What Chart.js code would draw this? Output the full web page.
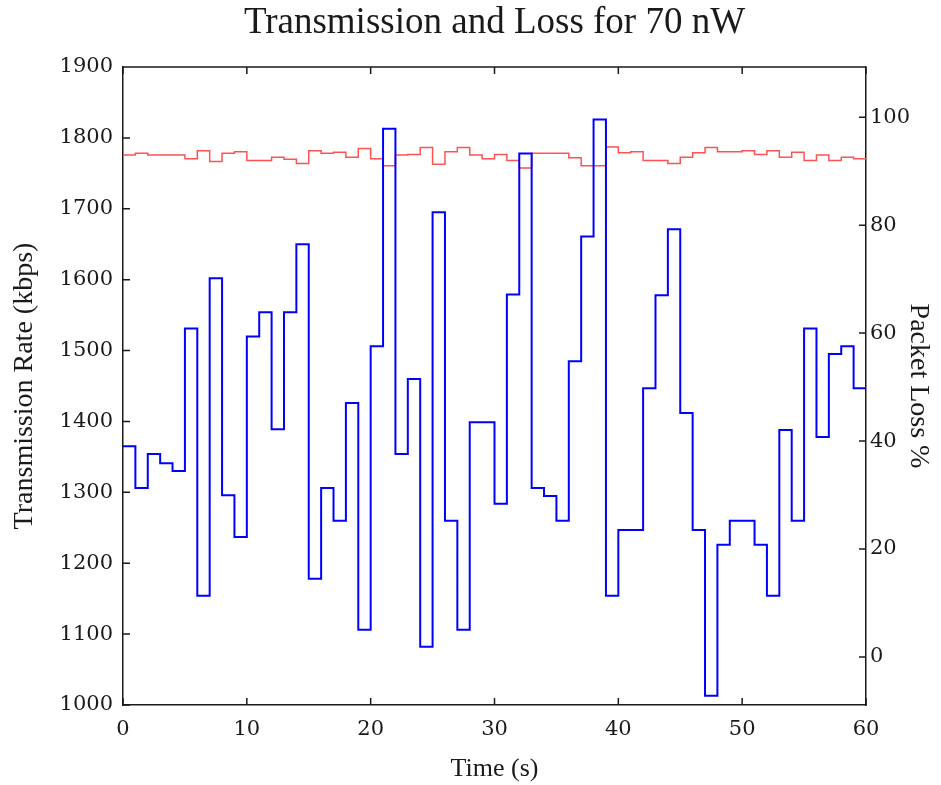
<!DOCTYPE html>
<html>
<head>
<meta charset="utf-8">
<script src="https://cdn.jsdelivr.net/npm/chart.js@4.4.1/dist/chart.umd.min.js"></script>
<style>
  html, body { margin: 0; padding: 0; background: #fff; }
  #wrap { width: 941px; height: 785px; }
</style>
</head>
<body>
<div id="wrap"><canvas id="lossChart"></canvas></div>
<script>
// Step boundaries (s); each value holds from its second to the next
const timeSec = [0, 1, 2, 3, 4, 5, 6, 7, 8, 9, 10, 11, 12, 13, 14, 15, 16, 17, 18, 19,
  20, 21, 22, 23, 24, 25, 26, 27, 28, 29, 30, 31, 32, 33, 34, 35, 36, 37, 38, 39,
  40, 41, 42, 43, 44, 45, 46, 47, 48, 49, 50, 51, 52, 53, 54, 55, 56, 57, 58, 59, 60];

// Transmission rate (kbps), left axis
const rateKbps = [1365, 1306, 1354, 1341, 1330, 1531, 1154, 1602, 1296, 1237,
  1520, 1554, 1389, 1554, 1650, 1178, 1306, 1260, 1426, 1106,
  1506, 1813, 1354, 1460, 1082, 1695, 1260, 1106, 1399, 1399,
  1284, 1579, 1778, 1306, 1295, 1260, 1485, 1661, 1826, 1154,
  1247, 1247, 1447, 1578, 1671, 1412, 1247, 1013, 1226, 1260,
  1260, 1226, 1154, 1388, 1260, 1531, 1378, 1495, 1506, 1447];

// Packet loss (%), right axis
const lossPct = [93.0, 93.3, 93.0, 93.0, 93.0, 92.3, 93.8, 91.8, 93.3, 93.6,
  92.0, 92.0, 92.6, 92.2, 91.4, 93.8, 93.3, 93.5, 92.6, 94.2,
  92.3, 91.0, 93.0, 93.1, 94.4, 91.3, 93.6, 94.4, 93.0, 92.3,
  93.1, 92.0, 90.6, 93.3, 93.3, 93.3, 92.5, 91.0, 91.0, 94.5,
  93.4, 93.6, 92.0, 92.0, 91.4, 92.6, 93.4, 94.4, 93.6, 93.6,
  93.8, 93.1, 93.8, 92.6, 93.5, 92.0, 93.0, 92.0, 92.6, 92.3];

const timeTicks = [0, 10, 20, 30, 40, 50, 60];
const rateTicks = [1000, 1100, 1200, 1300, 1400, 1500, 1600, 1700, 1800, 1900];
const lossTicks = [0, 20, 40, 60, 80, 100];

function toSteps(values) {
  // last boundary repeats the final value so the step reaches t = 60
  return timeSec.map((t, i) => ({ x: t, y: values[Math.min(i, values.length - 1)] }));
}

const tickFont = { family: 'DejaVu Serif', size: 21 };
const ink = '#1a1a1a';
const plain = v => String(v);

// MATLAB style box: top edge plus inward tick marks on every side
const boxTicks = {
  id: 'boxTicks',
  afterDatasetsDraw(chart) {
    const { ctx, chartArea: a, scales } = chart;
    const len = 7;
    ctx.save();
    ctx.strokeStyle = ink;
    ctx.lineWidth = 1.5;
    ctx.beginPath();
    ctx.moveTo(a.left, a.top);
    ctx.lineTo(a.right, a.top);
    scales.x.ticks.forEach(t => {
      const px = scales.x.getPixelForValue(t.value);
      ctx.moveTo(px, a.bottom); ctx.lineTo(px, a.bottom - len);
      ctx.moveTo(px, a.top); ctx.lineTo(px, a.top + len);
    });
    scales.y.ticks.forEach(t => {
      const py = scales.y.getPixelForValue(t.value);
      ctx.moveTo(a.left, py); ctx.lineTo(a.left + len, py);
    });
    scales.y1.ticks.forEach(t => {
      const py = scales.y1.getPixelForValue(t.value);
      ctx.moveTo(a.right, py); ctx.lineTo(a.right - len, py);
    });
    ctx.stroke();
    ctx.restore();
  }
};

new Chart(document.getElementById('lossChart'), {
  type: 'line',
  data: {
    datasets: [{
      label: 'Transmission Rate',
      data: toSteps(rateKbps),
      yAxisID: 'y',
      stepped: true,
      borderColor: '#0000ff',
      borderWidth: 2,
      pointRadius: 0,
      fill: false
    }, {
      label: 'Packet Loss',
      data: toSteps(lossPct),
      yAxisID: 'y1',
      stepped: true,
      borderColor: '#ff5252',
      borderWidth: 1.5,
      pointRadius: 0,
      fill: false
    }]
  },
  options: {
    responsive: true,
    maintainAspectRatio: false,
    animation: false,
    layout: { padding: 0 },
    plugins: {
      legend: { display: false },
      tooltip: { enabled: false },
      title: {
        display: true,
        fullSize: false,
        text: 'Transmission and Loss for 70 nW',
        color: ink,
        font: { family: 'Liberation Serif', size: 37, weight: 'normal' },
        padding: { top: 1, bottom: 21.6 }
      }
    },
    scales: {
      x: {
        type: 'linear',
        min: 0,
        max: 60,
        afterBuildTicks: s => { s.ticks = timeTicks.map(v => ({ value: v })); },
        afterFit: s => { s.height = 80; },
        grid: { display: false, drawTicks: false },
        border: { display: true, color: ink, width: 1.5 },
        ticks: { color: ink, font: tickFont, padding: 12, maxRotation: 0, callback: plain },
        title: { display: true, text: 'Time (s)', color: ink,
          font: { family: 'Liberation Serif', size: 26 }, padding: { top: 2, bottom: 0 } }
      },
      y: {
        position: 'left',
        min: 1000,
        max: 1900,
        afterBuildTicks: s => { s.ticks = rateTicks.map(v => ({ value: v })); },
        afterFit: s => { s.width = 123; },
        grid: { display: false, drawTicks: false },
        border: { display: true, color: ink, width: 1.5 },
        ticks: { color: ink, font: tickFont, padding: 10, callback: plain },
        title: { display: true, text: 'Transmission Rate (kbps)', color: ink,
          font: { family: 'Liberation Serif', size: 28 }, padding: { top: 8, bottom: 0 } }
      },
      y1: {
        position: 'right',
        min: -8.9,
        max: 109.3,
        afterBuildTicks: s => { s.ticks = lossTicks.map(v => ({ value: v })); },
        afterFit: s => { s.width = 75; },
        grid: { display: false, drawTicks: false },
        border: { display: true, color: ink, width: 1.5 },
        ticks: { color: ink, font: tickFont, padding: 4, callback: plain },
        title: { display: true, text: 'Packet Loss %', color: ink,
          font: { family: 'Liberation Serif', size: 28 }, padding: { top: 6, bottom: 0 } }
      }
    }
  },
  plugins: [boxTicks]
});
</script>
</body>
</html>
